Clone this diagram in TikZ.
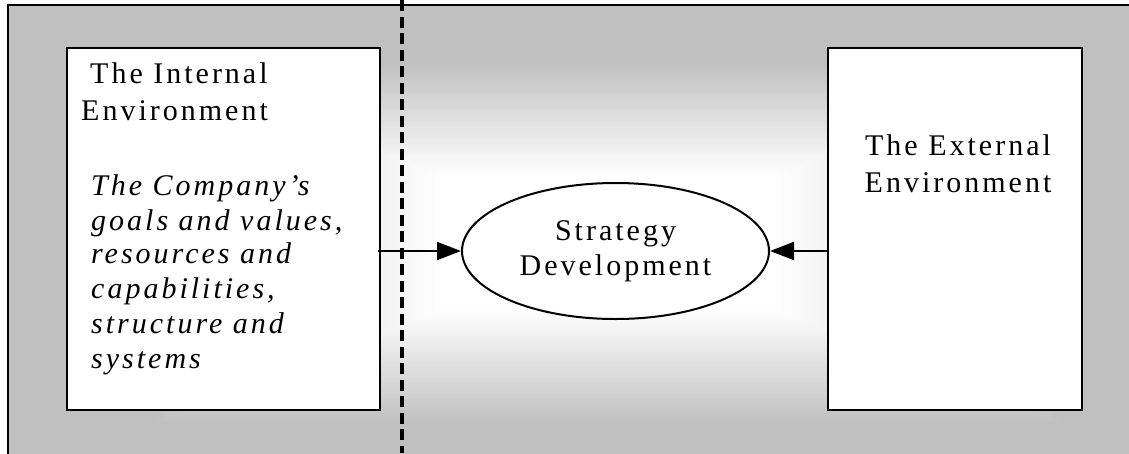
\documentclass[tikz,border=0pt]{standalone}
\usepackage{fontspec}
\setmainfont{Liberation Serif}[LetterSpace=10]
\usetikzlibrary{arrows.meta,shapes.geometric}
\definecolor{gbg}{RGB}{192,192,192}
\begin{document}
\begin{tikzpicture}[x=1pt,y=-1pt,
  box/.style={draw=black, line width=2pt, fill=white, inner sep=0pt},
  arr/.style={line width=1.8pt, -{Triangle[length=24pt,width=18pt]}},
  txt/.style={inner sep=0pt, font=\fontsize{30}{37}\selectfont},
  itxt/.style={inner sep=0pt, font=\fontsize{30}{35}\selectfont\itshape}]
\useasboundingbox (0,0) rectangle (1129,453);
\begin{scope}
  \clip (0,0) rectangle (1129,453);
  \fill[gbg] (8,5) rectangle (1140,470);
  \foreach \i in {0,...,50} {
    \pgfmathsetmacro\s{0.76-0.48*\i/50}
    \pgfmathsetmacro\c{2*\i}
    \fill[white!\c!gbg] ({608-600*\s},{243-240*\s}) rectangle ({608+600*\s},{243+240*\s});
  }
  \draw[line width=1.5pt] (8,470) -- (8,5) -- (1140,5);
\end{scope}
% boxes
\node[box, minimum width=313pt, minimum height=362pt] (lbox) at (223.5,229) {};
\node[box, minimum width=254pt, minimum height=362pt] (rbox) at (955,229) {};
\node[box, ellipse, minimum width=307pt, minimum height=136pt, align=center,
      font=\fontsize{30}{35}\selectfont] (ell) at (615.5,251) {Strategy\\Development};
% dashed divider
\coordinate (dtop) at (402,0);
\coordinate (dbot) at (402,453);
\draw[line width=3.2pt, dash pattern=on 11pt off 5.5pt] (dtop) -- (dbot);
% arrows
\draw[arr] ([xshift=-3pt]lbox.east |- ell.west) -- (ell.west);
\draw[arr] (rbox.west |- ell.east) -- (ell.east);
% left box text
\node[txt, anchor=base west] (t1) at (90,83) {The Internal};
\node[txt, anchor=base west] (t2) at (81,120) {Environment};
\node[itxt, anchor=base west] (i1) at (91,195) {The Company’s};
\node[itxt, anchor=base west] (i2) at (91,230) {goals and values,};
\node[itxt, anchor=base west] (i3) at (91,263) {resources and};
\node[itxt, anchor=base west] (i4) at (91,298) {capabilities,};
\node[itxt, anchor=base west] (i5) at (91,333) {structure and};
\node[itxt, anchor=base west] (i6) at (91,368) {systems};
% right box text
\node[txt, anchor=base] (e1) at (958,155) {The External};
\node[txt, anchor=base] (e2) at (958,192) {Environment};
\end{tikzpicture}
\end{document}
